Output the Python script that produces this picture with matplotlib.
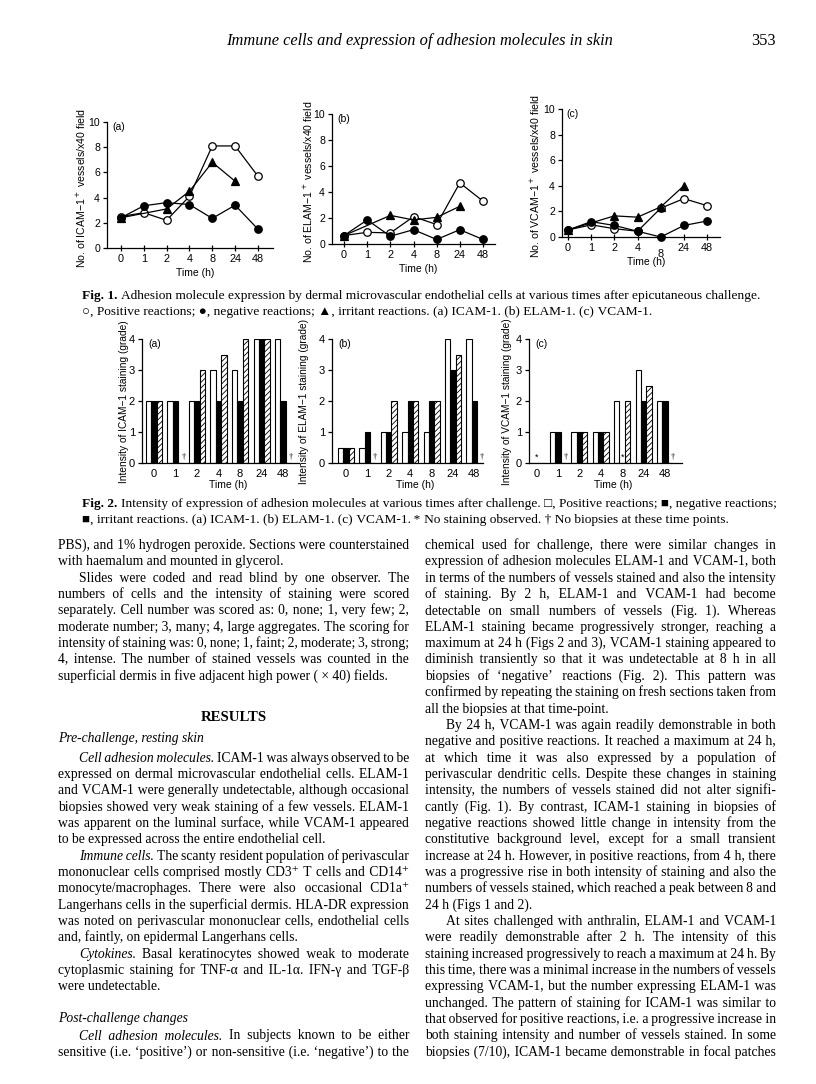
import numpy as np
import matplotlib
matplotlib.use('Agg')
import matplotlib.pyplot as plt
from matplotlib.font_manager import FontProperties

W, H, DPI = 816, 1084, 100
nan = np.nan

# ---------------- data ----------------
times = ['0', '1', '2', '4', '8', '24', '48']

# Fig. 1 : number of positive vessels per x40 field
icam_pos = [2.5, 2.8, 2.2, 4.1, 8.1, 8.1, 5.7]
icam_neg = [2.4, 3.35, 3.6, 3.45, 2.35, 3.4, 1.5]
icam_irr = [2.4, nan, 3.1, 4.5, 6.8, 5.3, nan]

elam_pos = [0.65, 0.9, 0.85, 2.1, 1.5, 4.7, 3.3]
elam_neg = [0.65, 1.85, 0.6, 1.1, 0.35, 1.1, 0.35]
elam_irr = [0.65, nan, 2.2, 1.85, 2.05, 2.9, nan]

vcam_pos = [0.55, 0.95, 0.65, 0.45, 2.25, 3.0, 2.45]
vcam_neg = [0.55, 1.2, 0.9, 0.45, 0.0, 0.9, 1.25]
vcam_irr = [0.55, nan, 1.65, 1.55, 2.35, 4.0, nan]

# Fig. 2 : intensity of staining (grade); nan = no biopsies, 0 = no staining
grade_icam_pos = [2, 2, 2, 3, 3, 4, 4]
grade_icam_neg = [2, 2, 2, 2, 2, 4, 2]
grade_icam_irr = [2, nan, 3, 3.5, 4, 4, nan]

grade_elam_pos = [0.5, 0.5, 1, 1, 1, 4, 4]
grade_elam_neg = [0.5, 1, 1, 2, 2, 3, 2]
grade_elam_irr = [0.5, nan, 2, 2, 2, 3.5, nan]

grade_vcam_pos = [0, 1, 1, 1, 2, 3, 2]
grade_vcam_neg = [0, 1, 1, 1, 0, 2, 2]
grade_vcam_irr = [0, nan, 1, 1, 2, 2.5, nan]

# ---------------- setup ----------------
TEXTFAM = ['Liberation Serif', 'DejaVu Serif', 'DejaVu Sans']
SANS = ['Liberation Sans', 'DejaVu Sans']
plt.rcParams['font.family'] = SANS
plt.rcParams['axes.linewidth'] = 0.9
plt.rcParams['hatch.linewidth'] = 0.6

fig = plt.figure(figsize=(W / DPI, H / DPI), dpi=DPI)
fig.patch.set_facecolor('white')
renderer = fig.canvas.get_renderer()


def fx(x):
    return x / W


def fy(y):
    return 1 - y / H


def ax_px(x0, x1, ytop, ybot):
    return fig.add_axes([fx(x0), fy(ybot), (x1 - x0) / W, (ybot - ytop) / H])


# ---------------- Fig. 1 line charts ----------------
fig1_specs = [
    (107, 273, 122, 248, (-0.61, 6.66), '(a)', 'ICAM', 81, (icam_pos, icam_neg, icam_irr)),
    (332, 495, 114, 244, (-0.52, 6.52), '(b)', 'ELAM', 308, (elam_pos, elam_neg, elam_irr)),
    (562, 720, 109, 237, (-0.26, 6.56), '(c)', 'VCAM', 535, (vcam_pos, vcam_neg, vcam_irr)),
]
xi = np.arange(len(times))
for (x0, x1, yt, yb, xl, lab, mol, ylx, (pos, neg, irr)) in fig1_specs:
    ax = ax_px(x0, x1, yt, yb)
    for vals, mk, mfc, z in ((pos, 'o', 'white', 3), (irr, '^', 'black', 4), (neg, 'o', 'black', 5)):
        v = np.array(vals, dtype=float)
        m = ~np.isnan(v)
        ax.plot(xi[m], v[m], color='black', lw=0.9, marker=mk, ms=5.4 if mk == 'o' else 5.2,
                mfc=mfc, mec='black', mew=0.9, clip_on=False, zorder=z)
    ax.set_xlim(*xl)
    ax.set_ylim(0, 10)
    ax.set_yticks([0, 2, 4, 6, 8, 10])
    ax.set_xticks(xi)
    ax.set_xticklabels(times)
    for s in ('top', 'right'):
        ax.spines[s].set_visible(False)
    ax.tick_params(axis='y', direction='out', length=3, width=0.9, pad=2, labelsize=7.6)
    ax.tick_params(axis='x', direction='inout', length=5, width=0.9, pad=2, labelsize=7.8)
    if mol == 'VCAM':
        ax.xaxis.get_major_ticks()[4].set_pad(6)
    ax.patch.set_alpha(0)
    ax.text(0.03, 1.0, lab, transform=ax.transAxes, fontsize=7.5, va='top', ha='left')
    fig.text(fx(ylx), fy((yt + yb) / 2 + 3),
             'No. of %s\u22121$^+$ vessels/x40 field' % mol,
             rotation=90, ha='center', va='center', fontsize=7.6)
    fig.text(fx((x0 + x1) / 2 + 5), fy(yb + 25), 'Time (h)', ha='center', va='center', fontsize=7.5)

# ---------------- Fig. 2 bar charts ----------------
fig2_specs = [
    (142, 299, (-0.56, 6.74), '(a)', 'ICAM', 124, (grade_icam_pos, grade_icam_neg, grade_icam_irr)),
    (332, 483, (-0.65, 6.40), '(b)', 'ELAM', 304, (grade_elam_pos, grade_elam_neg, grade_elam_irr)),
    (529, 682, (-0.36, 6.80), '(c)', 'VCAM', 507, (grade_vcam_pos, grade_vcam_neg, grade_vcam_irr)),
]
bw = 0.25
for (x0, x1, xl, lab, mol, ylx, (gp, gn, gi)) in fig2_specs:
    ax = ax_px(x0, x1, 339, 463)
    gp, gn, gi = (np.array(a, dtype=float) for a in (gp, gn, gi))
    ax.bar(xi - bw, np.nan_to_num(gp), bw, color='white', edgecolor='black', lw=0.8)
    ax.bar(xi, np.nan_to_num(gn), bw, color='black', edgecolor='black', lw=0.8)
    ax.bar(xi + bw, np.nan_to_num(gi), bw, color='white', edgecolor='black', lw=0.8, hatch='//////')
    for i in range(len(times)):
        vals = (gp[i], gn[i], gi[i])
        if all(v == 0 for v in vals):
            ax.text(i, 0.05, '*', ha='center', va='bottom', fontsize=6.5)
            continue
        for off, v in zip((-bw, 0, bw), vals):
            if np.isnan(v):
                ax.text(i + off + 0.12, 0.05, '\u2020', ha='center', va='bottom', fontsize=6,
                        family='Liberation Serif')
            elif v == 0:
                ax.text(i + off, 0.05, '*', ha='center', va='bottom', fontsize=6.5)
    ax.set_xlim(*xl)
    ax.set_ylim(0, 4)
    ax.set_yticks([0, 1, 2, 3, 4])
    ax.set_xticks(xi)
    ax.set_xticklabels(times)
    for s in ('top', 'right'):
        ax.spines[s].set_visible(False)
    ax.tick_params(axis='y', direction='out', length=3, width=0.9, pad=2, labelsize=8)
    ax.tick_params(axis='x', length=0, pad=4, labelsize=8)
    ax.patch.set_alpha(0)
    ax.text(0.04, 1.0, lab, transform=ax.transAxes, fontsize=7.5, va='top', ha='left')
    fig.text(fx(ylx), fy(402), 'Intensity of %s\u22121 staining (grade)' % mol,
             rotation=90, ha='center', va='center', fontsize=7.3)
    fig.text(fx((x0 + x1) / 2 + 8), fy(485), 'Time (h)', ha='center', va='center', fontsize=7.5)

# ---------------- text helpers (one Text per style run, justified with unicode spaces) ----------------
_pcache = {}


def fprop(size, it=False, bd=False):
    key = (round(size, 4), it, bd)
    if key not in _pcache:
        _pcache[key] = FontProperties(family=TEXTFAM, style='italic' if it else 'normal',
                                      weight='bold' if bd else 'normal', size=size)
    return _pcache[key]


_wcache = {}


def tw(s, size, it=False, bd=False):
    key = (s, round(size, 4), it, bd)
    if key not in _wcache:
        w, h, d = renderer.get_text_width_height_descent(s, fprop(size, it, bd), ismath=False)
        _wcache[key] = w
    return _wcache[key]


SPACES = [' ', '\u2002', '\u2004', '\u2005', '\u2006', '\u2008', '\u2009', '\u200a']
_stab = {}


def space_table(size, it, bd):
    key = (round(size, 4), it, bd)
    if key not in _stab:
        base = tw('xx', size, it, bd)
        tab = {}
        for a in [''] + SPACES:
            for b in SPACES:
                c = a + b
                adv = tw('x' + c + 'x', size, it, bd) - base
                if adv > 0.3:
                    tab.setdefault(round(adv, 2), c)
        _stab[key] = sorted(tab.items())
    return _stab[key]


def space_adv(size, it=False, bd=False):
    return tw('x x', size, it, bd) - tw('xx', size, it, bd)


def parse_words(line):
    words = []
    italic = bold = False
    for w in line.split(' '):
        if not w:
            continue
        if w.startswith('_'):
            italic = True
            w = w[1:]
        if w.startswith('#'):
            bold = True
            w = w[1:]
        it, bd = italic, bold
        if w.endswith('_'):
            italic = False
            w = w[:-1]
        if w.endswith('#'):
            bold = False
            w = w[:-1]
        words.append((w, it, bd))
    return words


def natural_width(line, size, space_em=None):
    words = parse_words(line)
    ws = [tw(w, size, it, bd) for w, it, bd in words]
    sp = space_adv(size) if space_em is None else space_em * size * DPI / 72
    return sum(ws) + sp * (len(ws) - 1)


def draw_line(x0, y, line, size, width=None, indent=0):
    words = parse_words(line)
    ws = [tw(w, size, it, bd) for w, it, bd in words]
    n = len(words)
    if width is not None and n > 1:
        g = (width - indent - sum(ws)) / (n - 1)
    else:
        g = space_adv(size)
    starts = []
    x = x0 + indent
    for k in range(n):
        starts.append(x)
        x += ws[k] + g
    runs = []
    cur = None
    for k, (w, it, bd) in enumerate(words):
        if cur is None or (it, bd) != (cur['it'], cur['bd']):
            if cur is not None:
                runs.append(cur)
            cur = {'x': starts[k], 's': w, 'it': it, 'bd': bd}
        else:
            sp = cur['s']
            wprev = tw(sp, size, it, bd)
            end_prev = cur['x'] + wprev
            delta = tw(sp + ' ' + w, size, it, bd) - wprev - ws[k] - space_adv(size, it, bd)
            need = starts[k] - end_prev - delta
            tab = space_table(size, it, bd)
            best = min(tab, key=lambda t: abs(t[0] - need))
            cur['s'] = sp + best[1] + w
    runs.append(cur)
    for r in runs:
        fig.text(fx(r['x']), fy(y), r['s'], fontproperties=fprop(size, r['it'], r['bd']),
                 va='baseline', ha='left')


# ---------------- header ----------------
hdr = '_Immune cells and expression of adhesion molecules in skin_'
hs = 11 * 384 / natural_width(hdr, 11)
hw = natural_width(hdr, hs)
draw_line(420 - hw / 2, 45, hdr, hs)
fig.text(fx(776), fy(45), '353', fontproperties=fprop(hs), ha='right', va='baseline')

# ---------------- captions ----------------
cap1 = ['#Fig. 1.# Adhesion molecule expression by dermal microvascular endothelial cells at various times after epicutaneous challenge.',
        '\u25cb, Positive reactions; \u25cf, negative reactions; \u25b2, irritant reactions. (a) ICAM-1. (b) ELAM-1. (c) VCAM-1.']
cap2 = ['#Fig. 2.# Intensity of expression of adhesion molecules at various times after challenge. \u25a1, Positive reactions; \u25a0, negative reactions;',
        '\u25a0, irritant reactions. (a) ICAM-1. (b) ELAM-1. (c) VCAM-1. * No staining observed. \u2020 No biopsies at these time points.']
cs = 10 * 693 / max(natural_width(cap1[0], 10), natural_width(cap2[0], 10))
for k, ln in enumerate(cap1):
    draw_line(82, 299 + 16 * k, ln, cs)
for k, ln in enumerate(cap2):
    draw_line(82, 507 + 16 * k, ln, cs)

# ---------------- body text ----------------
LS = 16.35
B0 = 549.0
COLW = 351
LX, RX = 58, 425

left_col = [
    (1, 'j', 'PBS), and 1% hydrogen peroxide. Sections were counterstained', 0),
    (2, 'l', 'with haemalum and mounted in glycerol.', 0),
    (3, 'j', 'Slides were coded and read blind by one observer. The', 1),
    (4, 'j', 'numbers of cells and the intensity of staining were scored', 0),
    (5, 'j', 'separately. Cell number was scored as: 0, none; 1, very few; 2,', 0),
    (6, 'j', 'moderate number; 3, many; 4, large aggregates. The scoring for', 0),
    (7, 'j', 'intensity of staining was: 0, none; 1, faint; 2, moderate; 3, strong;', 0),
    (8, 'j', '4, intense. The number of stained vessels was counted in the', 0),
    (9, 'l', 'superficial dermis in five adjacent high power ( \u00d7 40) fields.', 0),
    (11.55, 'c', '#RESULTS#', 0),
    (12.78, 'h', '_Pre-challenge, resting skin_', 0),
    (14, 'j', '_Cell adhesion molecules._ ICAM-1 was always observed to be', 1),
    (15, 'j', 'expressed on dermal microvascular endothelial cells. ELAM-1', 0),
    (16, 'j', 'and VCAM-1 were generally undetectable, although occasional', 0),
    (17, 'j', 'biopsies showed very weak staining of a few vessels. ELAM-1', 0),
    (18, 'j', 'was apparent on the luminal surface, while VCAM-1 appeared', 0),
    (19, 'l', 'to be expressed across the entire endothelial cell.', 0),
    (20, 'j', '_Immune cells._ The scanty resident population of perivascular', 1),
    (21, 'j', 'mononuclear cells comprised mostly CD3\u207a T cells and CD14\u207a', 0),
    (22, 'j', 'monocyte/macrophages. There were also occasional CD1a\u207a', 0),
    (23, 'j', 'Langerhans cells in the superficial dermis. HLA-DR expression', 0),
    (24, 'j', 'was noted on perivascular mononuclear cells, endothelial cells', 0),
    (25, 'l', 'and, faintly, on epidermal Langerhans cells.', 0),
    (26, 'j', '_Cytokines._ Basal keratinocytes showed weak to moderate', 1),
    (27, 'j', 'cytoplasmic staining for TNF-\u03b1 and IL-1\u03b1. IFN-\u03b3 and TGF-\u03b2', 0),
    (28, 'l', 'were undetectable.', 0),
    (29.95, 'h', '_Post-challenge changes_', 0),
    (31, 'j', '_Cell adhesion molecules._ In subjects known to be either', 1),
    (32, 'j', 'sensitive (i.e. \u2018positive\u2019) or non-sensitive (i.e. \u2018negative\u2019) to the', 0),
]
right_col = [
    (1, 'j', 'chemical used for challenge, there were similar changes in', 0),
    (2, 'j', 'expression of adhesion molecules ELAM-1 and VCAM-1, both', 0),
    (3, 'j', 'in terms of the numbers of vessels stained and also the intensity', 0),
    (4, 'j', 'of staining. By 2 h, ELAM-1 and VCAM-1 had become', 0),
    (5, 'j', 'detectable on small numbers of vessels (Fig. 1). Whereas', 0),
    (6, 'j', 'ELAM-1 staining became progressively stronger, reaching a', 0),
    (7, 'j', 'maximum at 24 h (Figs 2 and 3), VCAM-1 staining appeared to', 0),
    (8, 'j', 'diminish transiently so that it was undetectable at 8 h in all', 0),
    (9, 'j', 'biopsies of \u2018negative\u2019 reactions (Fig. 2). This pattern was', 0),
    (10, 'j', 'confirmed by repeating the staining on fresh sections taken from', 0),
    (11, 'l', 'all the biopsies at that time-point.', 0),
    (12, 'j', 'By 24 h, VCAM-1 was again readily demonstrable in both', 1),
    (13, 'j', 'negative and positive reactions. It reached a maximum at 24 h,', 0),
    (14, 'j', 'at which time it was also expressed by a population of', 0),
    (15, 'j', 'perivascular dendritic cells. Despite these changes in staining', 0),
    (16, 'j', 'intensity, the numbers of vessels stained did not alter signifi-', 0),
    (17, 'j', 'cantly (Fig. 1). By contrast, ICAM-1 staining in biopsies of', 0),
    (18, 'j', 'negative reactions showed little change in intensity from the', 0),
    (19, 'j', 'constitutive background level, except for a small transient', 0),
    (20, 'j', 'increase at 24 h. However, in positive reactions, from 4 h, there', 0),
    (21, 'j', 'was a progressive rise in both intensity of staining and also the', 0),
    (22, 'j', 'numbers of vessels stained, which reached a peak between 8 and', 0),
    (23, 'l', '24 h (Figs 1 and 2).', 0),
    (24, 'j', 'At sites challenged with anthralin, ELAM-1 and VCAM-1', 1),
    (25, 'j', 'were readily demonstrable after 2 h. The intensity of this', 0),
    (26, 'j', 'staining increased progressively to reach a maximum at 24 h. By', 0),
    (27, 'j', 'this time, there was a minimal increase in the numbers of vessels', 0),
    (28, 'j', 'expressing VCAM-1, but the number expressing ELAM-1 was', 0),
    (29, 'j', 'unchanged. The pattern of staining for ICAM-1 was similar to', 0),
    (30, 'j', 'that observed for positive reactions, i.e. a progressive increase in', 0),
    (31, 'j', 'both staining intensity and number of vessels stained. In some', 0),
    (32, 'j', 'biopsies (7/10), ICAM-1 became demonstrable in focal patches', 0),
]

IND = 21
ref = 10.0
maxw = 0
for col in (left_col, right_col):
    for n, kind, txt, ind in col:
        if kind == 'j':
            maxw = max(maxw, natural_width(txt, ref, space_em=0.2) + ind * IND)
bs = ref * COLW / maxw

for col, x0 in ((left_col, LX), (right_col, RX)):
    for n, kind, txt, ind in col:
        y = B0 + (n - 1) * LS
        if kind == 'j':
            draw_line(x0, y, txt, bs, width=COLW, indent=ind * IND)
        elif kind == 'l':
            draw_line(x0, y, txt, bs, indent=ind * IND)
        elif kind == 'h':
            draw_line(x0, y, txt, bs)
        elif kind == 'c':
            w = natural_width(txt, bs * 1.08)
            draw_line(x0 + COLW / 2 - w / 2, y, txt, bs * 1.08)

fig.savefig('out.png', dpi=DPI, facecolor='white')
